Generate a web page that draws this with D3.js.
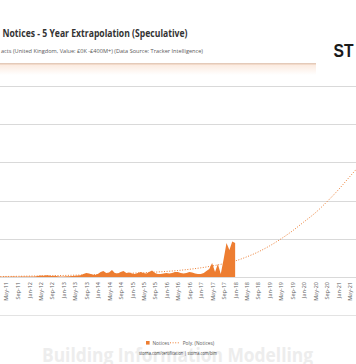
<!DOCTYPE html>
<html><head><meta charset="utf-8">
<script src="https://cdn.jsdelivr.net/npm/d3@7/dist/d3.min.js"></script>
<style>
body{margin:0;background:#fff;}
svg{display:block;font-family:"Open Sans","Noto Sans",sans-serif;}
</style>
</head><body>
<svg id="chart" width="356" height="364"></svg>
<script>
const titleText = "Notices - 5 Year Extrapolation (Speculative)";
const subtitleText = "acts (United Kingdom, Value: £0K -£400M+) (Data Source: Tracker Intelligence)";
const brandText = "ST";
const watermarkText = "Building Information Modelling";
const sourceText = "storna.com/certification | storna.com/bim";
const legendLabels = ["Notices", "Poly. (Notices)"];

const tickLabels = ["May-11","Sep-11","Jan-12","May-12","Sep-12","Jan-13","May-13","Sep-13",
  "Jan-14","May-14","Sep-14","Jan-15","May-15","Sep-15","Jan-16","May-16","Sep-16","Jan-17",
  "May-17","Sep-17","Jan-18","May-18","Sep-18","Jan-19","May-19","Sep-19","Jan-20","May-20",
  "Sep-20","Jan-21","May-21"];

// monthly notices, Mar-11 .. Jan-18
const noticeStart = "Mar-11";
const noticeValues = [
  0.4,0.4,0.5,0.4,0.7,0.5,0.4,0.7,0.5,0.8,0.7,0.5,0.8,
  1.3,2,1.6,2.4,2,1.3,1.6,1,0.8,0.7,0.9,1,1.3,
  1.6,2,2.4,
  3.9,5.2,4.6,3.3,2.6,3.9,6.5,7.9,5.2,5.9,9.2,5.2,4.6,6.5,7.9,5.2,5.9,4.6,3.9,5.2,
  6.5,5.2,4.6,6.5,8.5,5.2,3.9,3.9,4.6,5.2,4.6,5.2,6.5,6.5,5.2,4.6,5.2,6.5,5.9,4.6,
  3.9,3.9,5.2,7.9,
  10.5,18.3,6.5,17,3.9,23.6,44.5,35.4,46.5,44.5
];

// polynomial trend (read at these months)
const trendLabels = ["Mar-11"].concat(tickLabels, ["Sep-21"]);
const trendValues = [0.6,0.7,0.9,1.2,1.4,1.7,2,2.4,2.8,3.3,3.8,4.3,5,5.6,6.4,7.3,8.5,10.1,12,
  14.4,17.4,21,26.2,32.7,40.6,49.7,60.2,72,83.8,98.2,113.9,130.9,148];

const yTicks = [0,50,100,150,200,250];

const parse = d3.timeParse("%b-%y");
const svg = d3.select("#chart");
const orange = "#ED7D31";

const x = d3.scaleTime()
  .domain([parse("Mar-11"), parse("Jul-21")])
  .range([0.3, 355.2]);
const y = d3.scaleLinear().domain([0, 250]).range([277, 86]);

// header
svg.append("text").attr("x", 2.5).attr("y", 37)
  .attr("font-size", 10).attr("font-weight", "bold").attr("fill", "#333")
  .attr("textLength", 185).attr("lengthAdjust", "spacingAndGlyphs")
  .text(titleText);
svg.append("text").attr("x", 1).attr("y", 53)
  .attr("font-size", 5.6).attr("fill", "#595959")
  .attr("textLength", 202).attr("lengthAdjust", "spacingAndGlyphs")
  .text(subtitleText);
svg.append("text").attr("x", 333.5).attr("y", 56.7)
  .attr("font-size", 19).attr("font-weight", "bold").attr("fill", "#1a1a1a")
  .attr("font-family", "Liberation Sans, Arial, sans-serif")
  .attr("textLength", 20).attr("lengthAdjust", "spacingAndGlyphs")
  .text(brandText);

const defs = svg.append("defs");
const grad = defs.append("linearGradient").attr("id", "hg").attr("x1", 0).attr("y1", 0).attr("x2", 0).attr("y2", 1);
grad.append("stop").attr("offset", 0).attr("stop-color", "#fbe9dd");
grad.append("stop").attr("offset", 1).attr("stop-color", "#ffffff");
svg.append("rect").attr("x", 0).attr("y", 64).attr("width", 316).attr("height", 11).attr("fill", "url(#hg)");
svg.append("line").attr("x1", 0).attr("x2", 316).attr("y1", 63.8).attr("y2", 63.8)
  .attr("stroke", "#d9b49c").attr("stroke-width", 1);

// gridlines
svg.append("g").selectAll("line").data(yTicks).join("line")
  .attr("x1", 0).attr("x2", 356)
  .attr("y1", d => Math.round(y(d)) + 0.5).attr("y2", d => Math.round(y(d)) + 0.5)
  .attr("stroke", "#d9d9d9").attr("stroke-width", 1);

// area
const startDate = parse(noticeStart);
const notices = noticeValues.map((v, i) => ({date: d3.timeMonth.offset(startDate, i), value: v}));
svg.append("path").datum(notices)
  .attr("fill", orange)
  .attr("d", d3.area().x(d => x(d.date)).y0(y(0)).y1(d => y(d.value)));

// trend
const trend = trendLabels.map((l, i) => ({date: parse(l), value: trendValues[i]}));
svg.append("path").datum(trend)
  .attr("fill", "none").attr("stroke", orange).attr("stroke-width", 1)
  .attr("stroke-dasharray", "1,1.6")
  .attr("d", d3.line().x(d => x(d.date)).y(d => y(d.value)).curve(d3.curveMonotoneX));

// x axis
const xAxis = d3.axisBottom(x)
  .tickValues(tickLabels.map(parse))
  .tickFormat(d3.timeFormat("%b-%y"))
  .tickSize(0).tickPadding(0);
const gx = svg.append("g").attr("transform", "translate(0,277)").call(xAxis);
gx.select(".domain").remove();
gx.selectAll("text")
  .attr("font-size", 5.5).attr("fill", "#595959")
  .attr("font-family", "Open Sans, sans-serif")
  .attr("text-anchor", "end")
  .attr("dy", "0.35em")
  .attr("transform", "translate(0,5) rotate(-90)")
  .attr("y", 0).attr("x", 0);

// bottom border
svg.append("line").attr("x1", 0).attr("x2", 356).attr("y1", 315.5).attr("y2", 315.5)
  .attr("stroke", "#e3e3e3").attr("stroke-width", 1);

// watermark
svg.append("text").attr("x", 177.5).attr("y", 361.5).attr("text-anchor", "middle")
  .attr("font-size", 20).attr("font-weight", "bold").attr("fill", "#ededed")
  .attr("textLength", 271).attr("lengthAdjust", "spacingAndGlyphs")
  .text(watermarkText);

// legend
const lg = svg.append("g");
lg.append("rect").attr("x", 146).attr("y", 341).attr("width", 3.6).attr("height", 3.6).attr("fill", orange);
lg.append("text").attr("x", 152.5).attr("y", 344.5).attr("font-size", 4.8).attr("fill", "#595959").text(legendLabels[0]);
lg.append("line").attr("x1", 170).attr("x2", 180).attr("y1", 342.8).attr("y2", 342.8)
  .attr("stroke", orange).attr("stroke-width", 1).attr("stroke-dasharray", "1,1.6");
lg.append("text").attr("x", 182.7).attr("y", 344.5).attr("font-size", 4.8).attr("fill", "#595959").text(legendLabels[1]);

// source
svg.append("text").attr("x", 178).attr("y", 355.3).attr("text-anchor", "middle")
  .attr("font-size", 5).attr("fill", "#404040")
  .attr("textLength", 78).attr("lengthAdjust", "spacingAndGlyphs")
  .text(sourceText);
</script>
</body></html>
